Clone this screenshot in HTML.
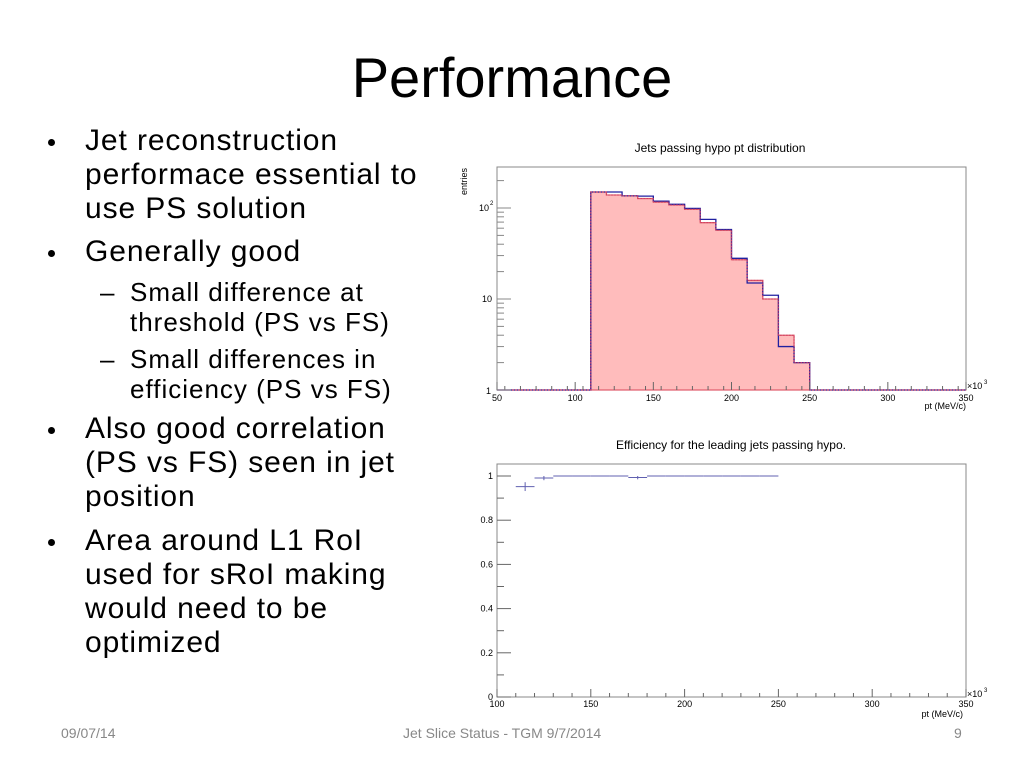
<!DOCTYPE html>
<html><head><meta charset="utf-8">
<style>
body{margin:0;width:1024px;height:768px;background:#fff;position:relative;overflow:hidden;font-family:"Liberation Sans",sans-serif;}
.t{position:absolute;white-space:nowrap;color:#000;}
#title{left:0;width:1024px;text-align:center;top:45px;font-size:56px;}
.b{font-size:30px;left:85px;letter-spacing:0.9px}
.s{font-size:26px;left:130px;letter-spacing:1px}
.dot{position:absolute;width:7px;height:7px;border-radius:50%;background:#000;left:48px}
.dash{position:absolute;left:100px;font-size:26px}
.f{font-size:14px;color:#888;top:725px}
svg{position:absolute;left:0;top:0}
</style></head><body>
<div class="t" id="title">Performance</div>
<div class="dot" style="top:139px"></div>
<div class="t b" style="top:124px">Jet reconstruction</div>
<div class="t b" style="top:158px">performace essential to</div>
<div class="t b" style="top:192px">use PS solution</div>
<div class="dot" style="top:250px"></div>
<div class="t b" style="top:235px">Generally good</div>
<div class="t dash" style="top:277px">–</div>
<div class="t s" style="top:277px">Small difference at</div>
<div class="t s" style="top:307px">threshold (PS vs FS)</div>
<div class="t dash" style="top:344px">–</div>
<div class="t s" style="top:344px">Small differences in</div>
<div class="t s" style="top:374px">efficiency (PS vs FS)</div>
<div class="dot" style="top:427px"></div>
<div class="t b" style="top:412px">Also good correlation</div>
<div class="t b" style="top:446px">(PS vs FS) seen in jet</div>
<div class="t b" style="top:480px">position</div>
<div class="dot" style="top:539px"></div>
<div class="t b" style="top:524px">Area around L1 RoI</div>
<div class="t b" style="top:558px">used for sRoI making</div>
<div class="t b" style="top:592px">would need to be</div>
<div class="t b" style="top:626px">optimized</div>
<div class="t f" style="left:61px">09/07/14</div>
<div class="t f" style="left:403px">Jet Slice Status - TGM 9/7/2014</div>
<div class="t f" style="left:954px">9</div>
<svg id="c" width="1024" height="768"></svg>
<script>
const histEdges=[110,120,130,140,150,160,170,180,190,200,210,220,230,240,250];
const histBlue=[150,150,136,135,119,110,99,75,58,28,15,11,3,2];
const histRed=[150,139,136,127,116,108,97,69,57,27,16,10,4,2];
const topXTicks=[50,100,150,200,250,300,350];
const effCenters=[115,125,135,145,155,165,175,185,195,205,215,225,235,245];
const effValues=[0.952,0.991,1,1,1,1,0.993,1,1,1,1,1,1,1];
const effErr=[0.02,0.01,0,0,0,0,0.008,0,0,0,0,0,0,0];
const effYTicks=[0,0.2,0.4,0.6,0.8,1];
const effXTicks=[100,150,200,250,300,350];
const NS="http://www.w3.org/2000/svg";
const svg=document.getElementById('c');
function el(tag,a,p){const e=document.createElementNS(NS,tag);for(const k in a)e.setAttribute(k,a[k]);(p||svg).appendChild(e);return e;}
function txt(x,y,s,size,anchor,name){const e=el('text',{x:x,y:y,'font-size':size,'text-anchor':anchor||'middle',fill:'#000','font-family':'Liberation Sans, sans-serif'});e.textContent=s;

return e;}
// top chart
const L=497,R=966,T=167,B=390;
const X1=v=>L+(v-50)*(R-L)/300;
const Y1=v=>B-Math.log10(v)*91;
txt(720,152,'Jets passing hypo pt distribution',12,'middle','top-chart-title');
el('rect',{x:L,y:T,width:R-L,height:B-T,fill:'none',stroke:'#888'});
function stepPath(vals){let d='M'+X1(50)+','+B+' L'+X1(histEdges[0])+','+B;for(let i=0;i<vals.length;i++){d+=' L'+X1(histEdges[i])+','+Y1(vals[i])+' L'+X1(histEdges[i+1])+','+Y1(vals[i]);}d+=' L'+X1(histEdges[histEdges.length-1])+','+B+' L'+X1(350)+','+B;return d;}
let p=el('path',{d:stepPath(histRed)+' Z',fill:'#ffbcbc',stroke:'#e06070','stroke-width':1.3});


p=el('path',{d:stepPath(histBlue),fill:'none',stroke:'#2020a0','stroke-width':1.3});


el('path',{d:stepPath(histRed),fill:'none',stroke:'#d04060','stroke-width':1,'stroke-dasharray':'2,1'});
topXTicks.forEach(v=>{el('line',{x1:X1(v),x2:X1(v),y1:B,y2:B-8,stroke:'#666'});txt(X1(v),401,String(v),9,'middle','top-x-tick');});
for(let v=55;v<350;v+=10){if(v%50)el('line',{x1:X1(v),x2:X1(v),y1:B,y2:B-4,stroke:'#666'});}
for(let d=0;d<3;d++)for(let m=1;m<10;m++){const v=m*Math.pow(10,d);if(Y1(v)<T)continue;el('line',{x1:L,x2:L+(m==1?14:7),y1:Y1(v),y2:Y1(v),stroke:'#888'});}
txt(491,394,'1',9,'end','top-y-tick');txt(492,302,'10',9,'end','top-y-tick');txt(489,211,'10',9,'end','top-y-tick');txt(490,205,'2',6,'start','top-y-exp');
const lab=txt(467,195,'entries',9,'start','top-y-title');lab.setAttribute('transform','rotate(-90 467 195)');
txt(967,389,'×10',9,'start','top-x-multiplier');txt(984,384,'3',6,'start','x-exp');
txt(966,409,'pt (MeV/c)',9,'end','top-x-title');
// bottom chart
const L2=497,R2=966,T2=464,B2=697;
const X2=v=>L2+(v-100)*(R2-L2)/250;
const Y2=v=>B2-v*221;
txt(731,449,'Efficiency for the leading jets passing hypo.',12,'middle','bottom-chart-title');
el('rect',{x:L2,y:T2,width:R2-L2,height:B2-T2,fill:'none',stroke:'#888'});
effYTicks.forEach(v=>{el('line',{x1:L2,x2:L2+14,y1:Y2(v),y2:Y2(v),stroke:'#666'});txt(493,Y2(v)+3,String(v),9,'end','bottom-y-tick');});
for(let v=0.1;v<1.05;v+=0.2)el('line',{x1:L2,x2:L2+7,y1:Y2(v),y2:Y2(v),stroke:'#666'});
effXTicks.forEach(v=>{el('line',{x1:X2(v),x2:X2(v),y1:B2,y2:B2-8,stroke:'#666'});txt(X2(v),707,String(v),9,'middle','bottom-x-tick');});
for(let v=110;v<350;v+=10){if(v%50)el('line',{x1:X2(v),x2:X2(v),y1:B2,y2:B2-4,stroke:'#666'});}
effCenters.forEach((c,i)=>{const g=el('g',{stroke:'#6060b0','stroke-width':1});


el('line',{x1:X2(c-5),x2:X2(c+5),y1:Y2(effValues[i]),y2:Y2(effValues[i])},g);
if(effErr[i]>0)el('line',{x1:X2(c),x2:X2(c),y1:Y2(effValues[i]-effErr[i]),y2:Y2(Math.min(1,effValues[i]+effErr[i]))},g);});
txt(967,697,'×10',9,'start','bottom-x-multiplier');txt(984,692,'3',6,'start','x-exp');
txt(963,717,'pt (MeV/c)',9,'end','bottom-x-title');
</script>
</body></html>
